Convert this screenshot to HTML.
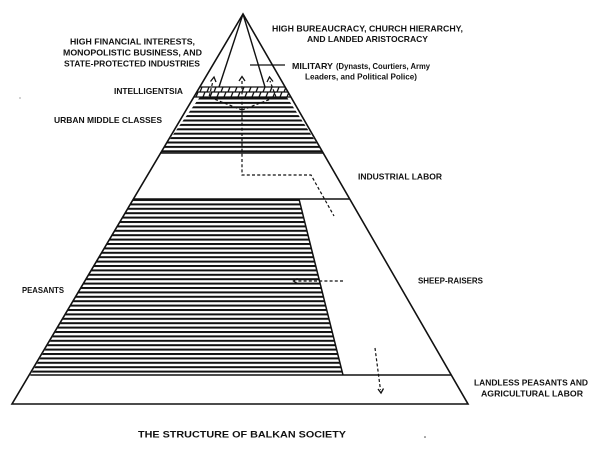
<!DOCTYPE html>
<html>
<head>
<meta charset="utf-8">
<style>
  html,body{margin:0;padding:0;background:#fff;}
  svg{display:block;}
  text{font-family:"Liberation Sans",sans-serif;font-weight:bold;fill:#111;}
</style>
</head>
<body>
<svg width="600" height="461" viewBox="0 0 600 461" xmlns="http://www.w3.org/2000/svg">
  <defs>
    <pattern id="stripesA" patternUnits="userSpaceOnUse" x="0" y="97.5" width="20" height="4.4">
      <rect x="0" y="0" width="20" height="2" fill="#111"/>
    </pattern>
    <pattern id="stripesB" patternUnits="userSpaceOnUse" x="0" y="199" width="20" height="4.4">
      <rect x="0" y="0" width="20" height="2" fill="#111"/>
    </pattern>
    <clipPath id="pyr">
      <polygon points="243,14 12,404 468,404"/>
    </clipPath>
  </defs>

  <rect width="600" height="461" fill="#fff"/>

  <!-- Urban middle classes stripes -->
  <polygon points="199.5,97.5 287.1,97.5 323,153 160,153" fill="url(#stripesA)"/>
  <!-- Peasants stripes -->
  <polygon points="133.4,199 299,199 343,375 30.3,375" fill="url(#stripesB)"/>

  <!-- Intelligentsia hatch band -->
  <g clip-path="url(#pyr)" stroke="#111" fill="none">
    <line x1="190" y1="87" x2="300" y2="87" stroke-width="1.3"/>
    <line x1="190" y1="92" x2="300" y2="92" stroke-width="1.2"/>
    <line x1="190" y1="97" x2="300" y2="97" stroke-width="1.3"/>
    <g stroke-width="1.3">
      <line x1="200" y1="92" x2="202" y2="87"/><line x1="207" y1="92" x2="209" y2="87"/>
      <line x1="214" y1="92" x2="216" y2="87"/><line x1="221" y1="92" x2="223" y2="87"/>
      <line x1="228" y1="92" x2="230" y2="87"/><line x1="235" y1="92" x2="237" y2="87"/>
      <line x1="242" y1="92" x2="244" y2="87"/><line x1="249" y1="92" x2="251" y2="87"/>
      <line x1="256" y1="92" x2="258" y2="87"/><line x1="263" y1="92" x2="265" y2="87"/>
      <line x1="270" y1="92" x2="272" y2="87"/><line x1="277" y1="92" x2="279" y2="87"/>
      <line x1="284" y1="92" x2="286" y2="87"/>
      <line x1="196" y1="97" x2="198" y2="92"/><line x1="203" y1="97" x2="205" y2="92"/>
      <line x1="210" y1="97" x2="212" y2="92"/><line x1="217" y1="97" x2="219" y2="92"/>
      <line x1="224" y1="97" x2="226" y2="92"/><line x1="231" y1="97" x2="233" y2="92"/>
      <line x1="238" y1="97" x2="240" y2="92"/><line x1="245" y1="97" x2="247" y2="92"/>
      <line x1="252" y1="97" x2="254" y2="92"/><line x1="259" y1="97" x2="261" y2="92"/>
      <line x1="266" y1="97" x2="268" y2="92"/><line x1="273" y1="97" x2="275" y2="92"/>
      <line x1="280" y1="97" x2="282" y2="92"/><line x1="287" y1="97" x2="289" y2="92"/>
    </g>
  </g>

  <!-- Pyramid outline -->
  <polygon points="243,14 12,404 468,404" fill="none" stroke="#111" stroke-width="1.6" stroke-linejoin="miter"/>
  <!-- inner apex lines -->
  <line x1="243" y1="14" x2="219" y2="87" stroke="#111" stroke-width="1.4"/>
  <line x1="243" y1="14" x2="265" y2="87" stroke="#111" stroke-width="1.4"/>
  <!-- military pointer -->
  <line x1="250" y1="65" x2="285" y2="65" stroke="#111" stroke-width="1.2"/>

  <!-- band boundaries -->
  <line x1="160" y1="153" x2="323" y2="153" stroke="#111" stroke-width="1.4"/>
  <line x1="133.4" y1="199" x2="349.5" y2="199" stroke="#111" stroke-width="1.5"/>
  <line x1="299" y1="199" x2="343" y2="375" stroke="#111" stroke-width="1.5"/>
  <line x1="30.3" y1="375" x2="451" y2="375" stroke="#111" stroke-width="1.5"/>

  <!-- Dashed mobility lines -->
  <g fill="none" stroke="#111" stroke-width="1.2" stroke-dasharray="3 2.2">
    <polyline points="242,81 242,175 311,175 334,216"/>
    <polyline points="242,110 209,97 213,81"/>
    <polyline points="242,110 276,97 270,81"/>
    <line x1="343" y1="281" x2="296" y2="281"/>
    <line x1="375" y1="348" x2="380.5" y2="390"/>
  </g>
  <!-- arrowheads -->
  <g fill="none" stroke="#111" stroke-width="1.3">
    <polyline points="239,81 242,76.5 245,81"/>
    <polyline points="210.5,81.5 214,77 216,82"/>
    <polyline points="267,82 269.5,77 273,81.5"/>
    <polyline points="297.5,278.5 293.5,281 297.5,283.5"/>
    <polyline points="378,389 381,393 383.5,388.5"/>
  </g>

  <!-- Labels -->
  <g font-size="8.4">
    <text x="70" y="44.7" textLength="125" lengthAdjust="spacingAndGlyphs">HIGH FINANCIAL INTERESTS,</text>
    <text x="63" y="55.7" textLength="139" lengthAdjust="spacingAndGlyphs">MONOPOLISTIC BUSINESS, AND</text>
    <text x="64" y="66.3" textLength="136" lengthAdjust="spacingAndGlyphs">STATE-PROTECTED INDUSTRIES</text>
    <text x="114" y="94" textLength="69" lengthAdjust="spacingAndGlyphs">INTELLIGENTSIA</text>
    <text x="54" y="123" textLength="108" lengthAdjust="spacingAndGlyphs">URBAN MIDDLE CLASSES</text>
    <text x="272" y="31.3" textLength="191" lengthAdjust="spacingAndGlyphs">HIGH BUREAUCRACY, CHURCH HIERARCHY,</text>
    <text x="307" y="42" textLength="121" lengthAdjust="spacingAndGlyphs">AND LANDED ARISTOCRACY</text>
    <text x="292" y="69" textLength="41" lengthAdjust="spacingAndGlyphs">MILITARY</text>
    <text x="358" y="179.7" textLength="84" lengthAdjust="spacingAndGlyphs">INDUSTRIAL LABOR</text>
    <text x="418" y="283.7" textLength="65" lengthAdjust="spacingAndGlyphs">SHEEP-RAISERS</text>
    <text x="22" y="293" textLength="42" lengthAdjust="spacingAndGlyphs">PEASANTS</text>
    <text x="474" y="385.7" textLength="114" lengthAdjust="spacingAndGlyphs">LANDLESS PEASANTS AND</text>
    <text x="481" y="396.3" textLength="102" lengthAdjust="spacingAndGlyphs">AGRICULTURAL LABOR</text>
  </g>
  <g font-size="8">
    <text x="336" y="69" textLength="94" lengthAdjust="spacingAndGlyphs">(Dynasts, Courtiers, Army</text>
    <text x="305" y="79.7" textLength="112" lengthAdjust="spacingAndGlyphs">Leaders, and Political Police)</text>
  </g>
  <text x="138" y="437.5" font-size="9.6" textLength="208" lengthAdjust="spacingAndGlyphs">THE STRUCTURE OF BALKAN SOCIETY</text>

  <!-- faint specks -->
  <circle cx="425" cy="437" r="0.8" fill="#444"/>
  <circle cx="20" cy="98" r="0.6" fill="#666"/>
</svg>
</body>
</html>
